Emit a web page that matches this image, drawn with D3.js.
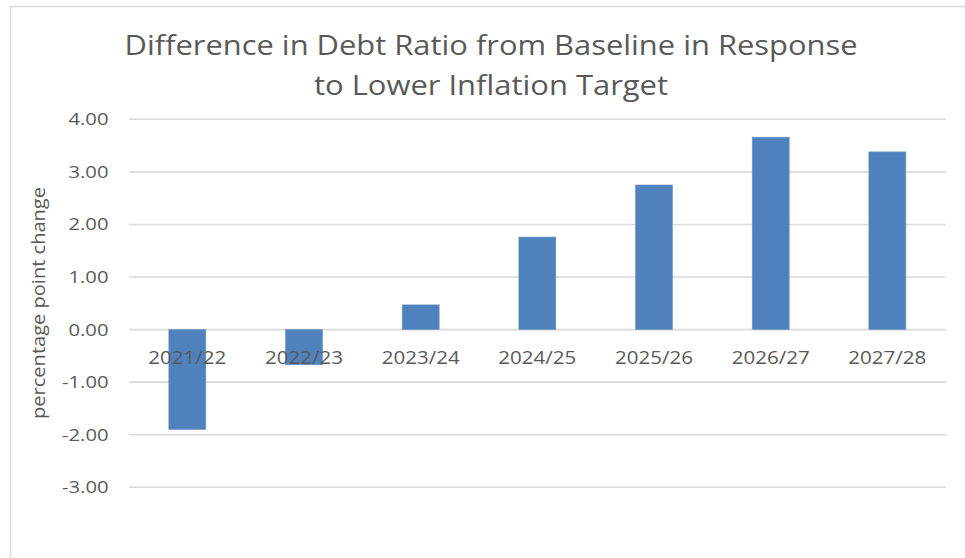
<!DOCTYPE html>
<html><head><meta charset="utf-8">
<script src="https://cdn.jsdelivr.net/npm/d3@7"></script>
<style>body{margin:0;background:#fff}svg{display:block}</style>
</head><body><svg id="c" width="965" height="558"></svg>
<script>
const categories = ["2021/22","2022/23","2023/24","2024/25","2025/26","2026/27","2027/28"];
const values = [-1.90,-0.67,0.47,1.76,2.75,3.66,3.38];
const yTicks = [-3,-2,-1,0,1,2,3,4];
const titleLines = ["Difference in Debt Ratio from Baseline in Response","to Lower Inflation Target"];
const yTitle = "percentage point change";

const FONT = "'Open Sans', sans-serif";
const TEXT = "#595959";
const GRID = "#d9d9d9";
const BAR = "#4f81bd";

const svg = d3.select("#c");
svg.append("rect").attr("x",10.5).attr("y",6.5).attr("width",1200).attr("height",800)
  .attr("fill","none").attr("stroke",GRID).attr("stroke-width",1.5);

const x = d3.scaleBand().domain(categories).range([129,945.7]).paddingInner(0.683).paddingOuter(0.3415);
const y = d3.scaleLinear().domain([-3,4]).range([487.3,119.3]);
const fmt = d3.formatLocale({decimal:".",thousands:",",grouping:[3],currency:["",""],minus:"-"}).format(".2f");

// fit helper: stretch text horizontally by a shared factor
function stretch(sel, refText, refWidth){
  const nodes = sel.nodes();
  const ref = nodes.find(n=>n.textContent===refText) || nodes[0];
  const k = refWidth / ref.getComputedTextLength();
  nodes.forEach(n=>{
    n.setAttribute("textLength", n.getComputedTextLength()*k);
    n.setAttribute("lengthAdjust","spacingAndGlyphs");
  });
}

// gridlines
svg.append("g").selectAll("line").data(yTicks).join("line")
  .attr("x1",129).attr("x2",945.7)
  .attr("y1",d=>y(d)).attr("y2",d=>y(d))
  .attr("stroke",GRID).attr("stroke-width",1.6);

// y axis labels
const yAx = svg.append("g").attr("transform","translate(129,0)")
  .call(d3.axisLeft(y).tickValues(yTicks).tickFormat(fmt).tickSize(0).tickPadding(20.5));
yAx.select(".domain").remove();
yAx.selectAll("text").attr("fill",TEXT).style("font-family",FONT).style("font-size","17.2px");
stretch(yAx.selectAll("text"), "0.00", 40);

// bars
svg.append("g").selectAll("rect").data(values).join("rect")
  .attr("x",(d,i)=>x(categories[i]))
  .attr("width",x.bandwidth())
  .attr("y",d=>y(Math.max(0,d)))
  .attr("height",d=>Math.abs(y(d)-y(0)))
  .attr("fill",BAR).attr("stroke","#6d95c8").attr("stroke-width",0.6);

// x axis labels (drawn on top of bars)
const xAx = svg.append("g").attr("transform",`translate(0,${y(0)})`)
  .call(d3.axisBottom(x).tickSize(0).tickPadding(21));
xAx.select(".domain").remove();
xAx.selectAll("text").attr("fill",TEXT).style("font-family",FONT).style("font-size","19px");
stretch(xAx.selectAll("text"), "2021/22", 78);

// y title
const yt = svg.append("text").attr("transform","translate(44.5,303) rotate(-90)")
  .attr("text-anchor","middle").attr("fill",TEXT)
  .style("font-family",FONT).style("font-size","18px").text(yTitle);
stretch(yt, yTitle, 232);

// title
const tw = [733,354];
const tb = [55,95];
svg.append("g").selectAll("text").data(titleLines).join("text")
  .attr("x",491).attr("y",(d,i)=>tb[i]).attr("text-anchor","middle").attr("fill",TEXT)
  .style("font-family",FONT).style("font-size","28px").text(d=>d)
  .attr("textLength",(d,i)=>tw[i]).attr("lengthAdjust","spacingAndGlyphs");
</script></body></html>
